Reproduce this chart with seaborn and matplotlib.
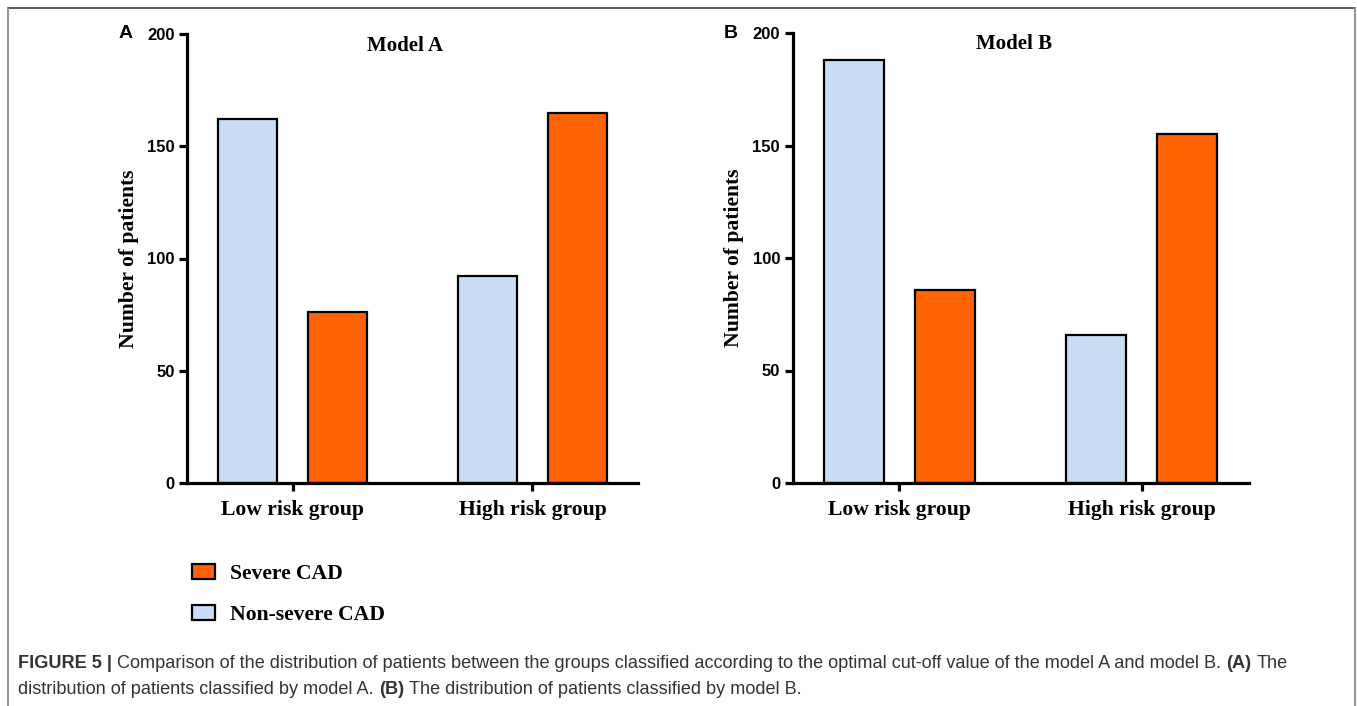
import matplotlib
matplotlib.use("Agg")
import matplotlib.pyplot as plt
from matplotlib.lines import Line2D
from matplotlib.patches import Patch
import pandas as pd
import seaborn as sns

# ---- data -------------------------------------------------------------
groups = ["Low risk group", "High risk group"]
statuses = ["Non-severe CAD", "Severe CAD"]
model_a_nonsevere = [162, 92]
model_a_severe = [76, 165]
model_b_nonsevere = [188, 66]
model_b_severe = [86, 155]
y_ticks = [0, 50, 100, 150, 200]
colors = {"Non-severe CAD": "#C9DDF6", "Severe CAD": "#FF6200"}

W, H = 1357, 706
sns.set_style("ticks")
plt.rcParams["font.family"] = ["Liberation Sans", "DejaVu Sans"]
plt.rcParams["text.color"] = "black"

fig = plt.figure(figsize=(W / 100, H / 100), dpi=100)


def fx(x):
    return x / W


def fy(y):
    return 1 - y / H


def make_frame(nonsevere, severe):
    rows = []
    for g, a, b in zip(groups, nonsevere, severe):
        rows.append({"group": g, "status": statuses[0], "count": a})
        rows.append({"group": g, "status": statuses[1], "count": b})
    return pd.DataFrame(rows)


def panel(left, right, top, bottom, df, title, letter, title_xy):
    ax = fig.add_axes([fx(left), fy(bottom), fx(right) - fx(left), fy(top) - fy(bottom)])
    sns.barplot(data=df, x="group", y="count", hue="status", hue_order=statuses,
                order=groups, palette=colors, saturation=1, width=0.75, gap=0.344,
                edgecolor="black", linewidth=1.6, errorbar=None, legend=False, ax=ax)
    ax.set_ylim(0, 200)
    ax.set_xlim(-0.44, 1.44)
    ax.set_yticks(y_ticks)
    for s in ("top", "right"):
        ax.spines[s].set_visible(False)
    for s in ("left", "bottom"):
        ax.spines[s].set_linewidth(2.3)
        ax.spines[s].set_color("black")
    ax.tick_params(axis="y", length=6, width=2.3, pad=3, labelsize=12, colors="black")
    ax.tick_params(axis="x", length=5.5, width=2.3, pad=7, colors="black")
    for lab in ax.get_yticklabels():
        lab.set_fontweight("bold")
    for lab in ax.get_xticklabels():
        lab.set_fontfamily(["Liberation Serif"])
        lab.set_fontweight("bold")
        lab.set_fontsize(15.6)
    ax.set_xlabel("")
    ax.set_ylabel("Number of patients", fontfamily=["Liberation Serif"],
                  fontweight="bold", fontsize=15.6, color="black")
    ax.yaxis.set_label_coords(-0.107, 0.5)
    ax.text(title_xy[0], title_xy[1], title, transform=ax.transAxes, ha="center",
            va="center", fontfamily=["Liberation Serif"], fontweight="bold", fontsize=15,
            color="black")
    fig.text(fx(letter[1]), fy(letter[2]), letter[0], ha="center", va="center",
             fontweight="bold", fontsize=14, color="black")
    ax.set_facecolor("white")
    return ax


panel(187, 638, 34, 483, make_frame(model_a_nonsevere, model_a_severe),
      "Model A", ("A", 126, 34), (0.483, 0.973))
panel(792.5, 1248.5, 33, 483, make_frame(model_b_nonsevere, model_b_severe),
      "Model B", ("B", 731, 33), (0.486, 0.976))

# legend below the left panel
handles = [Patch(facecolor=colors["Severe CAD"], edgecolor="black", linewidth=1.6),
           Patch(facecolor=colors["Non-severe CAD"], edgecolor="black", linewidth=1.6)]
leg = fig.legend(handles, ["Severe CAD", "Non-severe CAD"], loc="upper left",
                 bbox_to_anchor=(fx(192), fy(564)), frameon=False, borderpad=0,
                 borderaxespad=0, handlelength=1.06, handleheight=0.68, handletextpad=0.68,
                 labelspacing=0.95,
                 prop={"family": "Liberation Serif", "weight": "bold", "size": 15.6})
for t in leg.get_texts():
    t.set_color("black")

# page frame
frame_kw = dict(transform=fig.transFigure, linewidth=1.3)
fig.add_artist(Line2D([fx(8), fx(1355)], [fy(8), fy(8)], color="#4a4a4a", **frame_kw))
fig.add_artist(Line2D([fx(8), fx(8)], [fy(8), 0], color="#8a8a8a", **frame_kw))
fig.add_artist(Line2D([fx(1355), fx(1355)], [fy(8), 0], color="#8a8a8a", **frame_kw))

# caption with bold runs
renderer = fig.canvas.get_renderer()
cap_size = 13.1
cap_color = "#333333"
lines = [
    [("FIGURE 5 |", "bold"),
     (" Comparison of the distribution of patients between the groups classified according "
      "to the optimal cut-off value of the model A and model B.", "normal"),
     (" (A)", "bold"), (" The", "normal")],
    [("distribution of patients classified by model A.", "normal"), (" (B)", "bold"),
     (" The distribution of patients classified by model B.", "normal")],
]
line_y = [663, 689]
space_px = cap_size * 100 / 72 * 0.278
for segs, ly in zip(lines, line_y):
    x = 18.0
    for text, weight in segs:
        if text.startswith(" "):
            x += space_px
            text = text[1:]
        t = fig.text(fx(x), fy(ly), text, ha="left", va="center", fontsize=cap_size,
                     fontweight=weight, color=cap_color)
        bb = t.get_window_extent(renderer)
        x += bb.width

fig.savefig("out.png", dpi=100, facecolor="white")
